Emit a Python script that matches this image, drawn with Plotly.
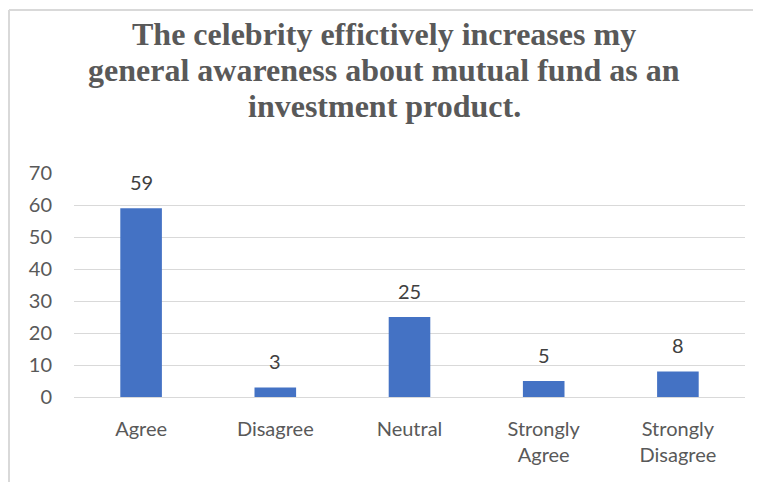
import plotly.graph_objects as go

categories = ["Agree", "Disagree", "Neutral", "Strongly<br>Agree", "Strongly<br>Disagree"]
values = [59, 3, 25, 5, 8]
y_ticks = [0, 10, 20, 30, 40, 50, 60, 70]
title_lines = [
    "The celebrity effictively increases my",
    "general awareness about mutual fund as an",
    "investment product.",
]

W, H = 761, 482
L, R, T, B = 66, 24, 165, 93
pw = W - L - R
ph = H - T - B


def px(fx):
    return (fx - L) / pw


def py(fy):
    return 1 + (T - fy) / ph


fig = go.Figure(go.Bar(
    x=categories, y=values,
    marker=dict(color="#4472C4", line=dict(width=0)),
    width=0.31,
    hoverinfo="x+y",
))

title_centers = [26, 62, 98]
annotations = [
    dict(text=t, x=px(376), y=py(cy), xref="paper", yref="paper",
         xanchor="center", yanchor="middle", showarrow=False,
         font=dict(family="Liberation Serif", size=32, color="#595959", weight="bold"))
    for t, cy in zip(title_lines, title_centers)
]
annotations += [
    dict(text=str(v), x=c, y=v, xref="x", yref="y",
         xanchor="center", yanchor="bottom", yshift=12, showarrow=False,
         font=dict(family="Lato", size=20, color="#404040"))
    for c, v in zip(categories, values)
]

fig.update_layout(
    width=W, height=H,
    margin=dict(l=L, r=R, t=T, b=B),
    paper_bgcolor="white", plot_bgcolor="white",
    showlegend=False,
    annotations=annotations,
    xaxis=dict(
        showline=False, showgrid=False, ticks="",
        tickfont=dict(family="Lato", size=20, color="#595959"),
        ticklabelstandoff=18,
    ),
    yaxis=dict(
        range=[0, 70], tickvals=y_ticks,
        showgrid=True, gridcolor="#d9d9d9", gridwidth=1,
        zeroline=True, zerolinecolor="#d9d9d9", zerolinewidth=1,
        showline=False, ticks="",
        tickfont=dict(family="Lato", size=20, color="#595959"),
        ticklabelstandoff=21,
    ),
    shapes=[
        dict(type="line", xref="paper", yref="paper",
             x0=px(1), x1=px(W + 5), y0=py(2), y1=py(2),
             line=dict(color="#d9d9d9", width=2)),
        dict(type="line", xref="paper", yref="paper",
             x0=px(1), x1=px(1), y0=py(2), y1=py(H + 5),
             line=dict(color="#d9d9d9", width=2)),
    ],
)

fig.write_html("out.html")
